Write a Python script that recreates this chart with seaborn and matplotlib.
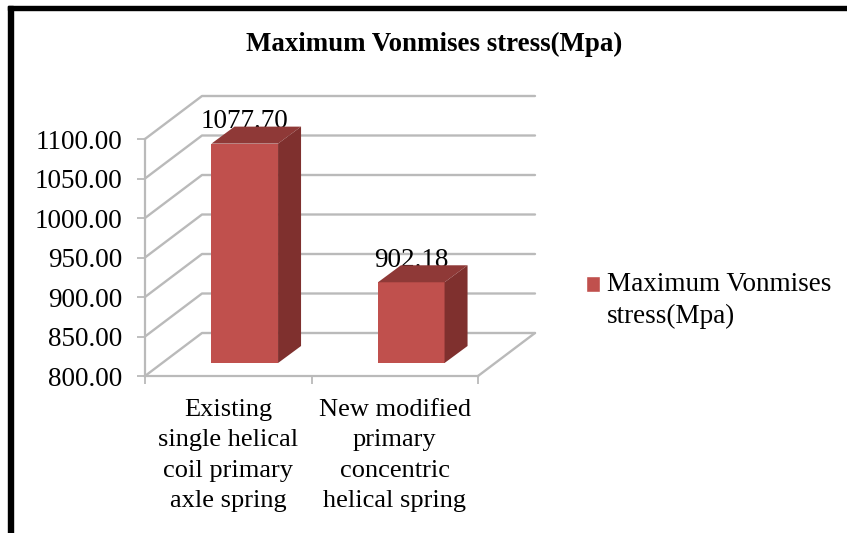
import matplotlib
matplotlib.use("Agg")
import matplotlib.pyplot as plt
import seaborn as sns
import pandas as pd
from matplotlib.lines import Line2D
from matplotlib.patches import Polygon, Patch, Rectangle
from matplotlib.legend_handler import HandlerPatch
from matplotlib.transforms import IdentityTransform

categories = ["Existing\nsingle helical\ncoil primary\naxle spring",
              "New modified\nprimary\nconcentric\nhelical spring"]
stress = [1077.70, 902.18]
value_labels = ["1077.70", "902.18"]
y_ticks = [800, 850, 900, 950, 1000, 1050, 1100]
series_name = "Maximum Vonmises stress(Mpa)"

W, H = 847, 533
FRONT, SIDE, TOP = "#C0504D", "#7F302E", "#8F3937"
GRID = "#BABABA"
FS = 19.5

sns.set_theme(style="white")
plt.rcParams["font.family"] = ["Liberation Serif", "DejaVu Serif"]

fig = plt.figure(figsize=(W / 100, H / 100), dpi=100, facecolor="white")

def rect(l, t, r, b):
    return [l / W, 1 - b / H, (r - l) / W, (b - t) / H]

# Axis plane
ax = fig.add_axes(rect(145, 139, 478, 376), facecolor="none")
ax.set_xlim(-0.5, 1.5)
ax.set_ylim(800, 1100)
ax.set_yticks(y_ticks, [f"{v:.2f}" for v in y_ticks], fontsize=FS, color="black")
ax.set_xticks([-0.5, 0.5, 1.5], ["", "", ""])
ax.set_xticks([0, 1], categories, minor=True, fontsize=19, color="black", linespacing=1.5)
ax.tick_params(axis="y", length=6, width=1.3, color=GRID, left=True, pad=10.4)
ax.tick_params(axis="x", which="major", length=6, width=1.3, color=GRID, bottom=True)
ax.tick_params(axis="x", which="minor", length=0, pad=16.5)
sns.despine(ax=ax)
for s in ("left", "bottom"):
    ax.spines[s].set_color(GRID)
    ax.spines[s].set_linewidth(1.6)

# Walls and floor
DX, DY = 57, 43
for v in y_ticks:
    x0, y0 = ax.transData.transform((-0.5, v))
    x1, _ = ax.transData.transform((1.5, v))
    fig.add_artist(Line2D([x0, x0 + DX, x1 + DX], [y0, y0 + DY, y0 + DY], color=GRID, lw=1.7,
                          transform=IdentityTransform(), zorder=1))
x1, y0 = ax.transData.transform((1.5, 800))
fig.add_artist(Line2D([x1, x1 + DX], [y0, y0 + DY], color=GRID, lw=1.7,
                      transform=IdentityTransform(), zorder=1))

# Bars, on a plane set back from the axis plane
BX, BY = 16.5, 13
ax_bar = fig.add_axes(rect(145 + BX, 139 - BY, 478 + BX, 376 - BY), facecolor="none", zorder=3)
df = pd.DataFrame({"category": categories, "stress": stress})
sns.barplot(data=df, x="category", y="stress", color=FRONT, saturation=1, width=0.40, ax=ax_bar,
            linewidth=0, edgecolor="none")
ax_bar.set_xlim(-0.5, 1.5)
ax_bar.set_ylim(800, 1100)
ax_bar.axis("off")

SX, SY = 23, 17
for bar, label in zip(ax_bar.patches, value_labels):
    xl, xr = bar.get_x(), bar.get_x() + bar.get_width()
    val = bar.get_height()
    (pl, pt), (pr, pb) = ax_bar.transData.transform([(xl, val), (xr, 800)])
    ax_bar.annotate(label, ((xl + xr) / 2, val), xytext=(0, 11), textcoords="offset points",
                    ha="center", va="baseline", fontsize=FS, color="black", zorder=1,
                    annotation_clip=False)
    fig.add_artist(Polygon([(pl, pt), (pr, pt), (pr + SX, pt + SY), (pl + SX, pt + SY)],
                           facecolor=TOP, edgecolor="none", transform=IdentityTransform(), zorder=5))
    fig.add_artist(Polygon([(pr, pt), (pr + SX, pt + SY), (pr + SX, pb + SY), (pr, pb)],
                           facecolor=SIDE, edgecolor="none", transform=IdentityTransform(), zorder=5))

fig.text(434 / W, 1 - 44.5 / H, series_name, ha="center", va="center", fontsize=19.4,
         fontweight="bold", color="black")

# Legend swatch sits beside the first line of the wrapped label
def first_line_swatch(legend, orig_handle, xdescent, ydescent, width, height, fontsize):
    return Rectangle((-xdescent, -ydescent + 11.7), width, height)

leg = fig.legend(handles=[Patch(facecolor=FRONT, label="Maximum Vonmises\nstress(Mpa)")],
                 handler_map={Patch: HandlerPatch(patch_func=first_line_swatch)},
                 loc="center left", bbox_to_anchor=(562 / W, 1 - 300.5 / H), frameon=False,
                 fontsize=FS, handlelength=0.5, handleheight=0.5, handletextpad=0.25,
                 labelcolor="black")
leg.get_texts()[0].set_linespacing(1.35)

# Page border
fig.add_artist(Rectangle((7.5 / W, 0), 5 / W, 1 - 6 / H, transform=fig.transFigure, color="black", zorder=6))
fig.add_artist(Rectangle((7.5 / W, 1 - 9.5 / H), 1 - 7.5 / W, 3.5 / H, transform=fig.transFigure, color="black", zorder=6))

fig.savefig("out.png", dpi=100)
